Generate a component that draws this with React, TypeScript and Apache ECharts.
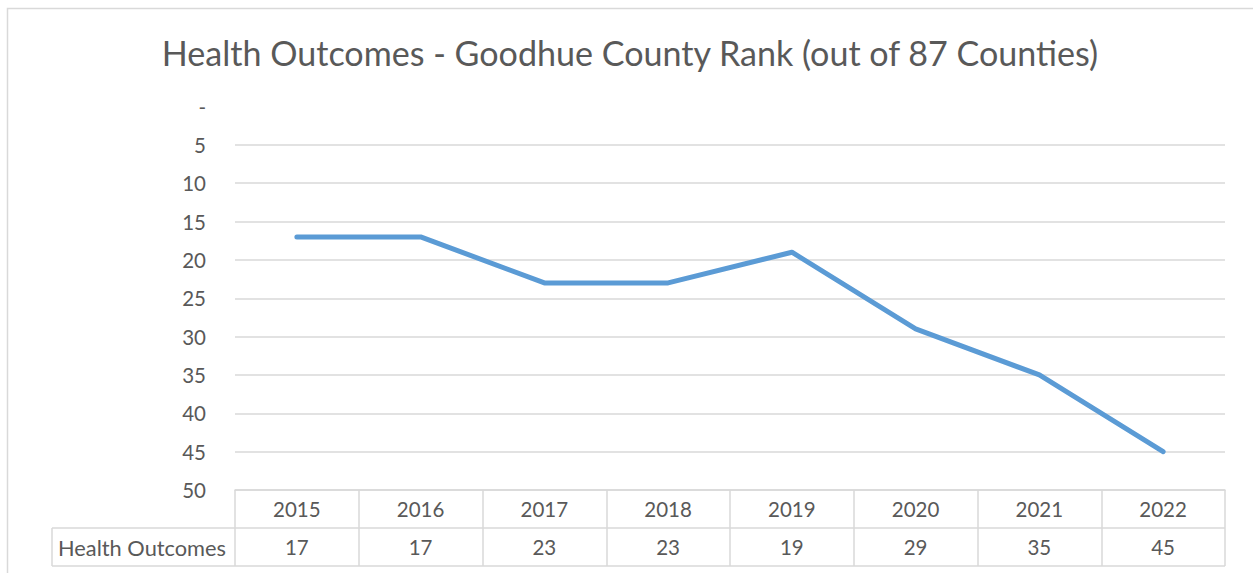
import React, { useEffect, useRef } from "react";
import * as echarts from "echarts";

const titleText = "Health Outcomes - Goodhue County Rank (out of 87 Counties)";
const seriesName = "Health Outcomes";
const years = ["2015", "2016", "2017", "2018", "2019", "2020", "2021", "2022"];
const ranks = [17, 17, 23, 23, 19, 29, 35, 45];

const FONT = "Lato";
const TXT = "#595959";
const GRID = "#d9d9d9";

export default function App() {
  const ref = useRef<HTMLDivElement>(null);
  useEffect(() => {
    if (!ref.current) return;
    const chart = echarts.init(ref.current, null, { renderer: "svg" });
    const gl = 235, gr = 1225, gt = 106.5, gb = 490;
    chart.setOption({
      animation: false,
      backgroundColor: "#fff",
      textStyle: { fontFamily: FONT },
      title: {
        text: titleText,
        left: 625,
        textAlign: "center",
        top: 30,
        textStyle: { fontFamily: FONT, fontSize: 34.1, fontWeight: "normal", color: TXT },
      },
      grid: { left: gl, right: 1253 - gr, top: gt, bottom: 573 - gb, containLabel: false },
      xAxis: {
        type: "category",
        data: years,
        boundaryGap: true,
        axisLine: { show: true, onZero: false, lineStyle: { color: GRID, width: 1.5 } },
        axisTick: { show: true, inside: false, length: 76, interval: 0, lineStyle: { color: GRID, width: 1.5 } },
        axisLabel: {
          interval: 0,
          margin: 0,
          color: TXT,
          fontFamily: FONT,
          fontSize: 20.5,
          lineHeight: 38,
          formatter: (v: string, i: number) => `${v}\n${ranks[i]}`,
        },
      },
      yAxis: {
        type: "value",
        inverse: true,
        min: 0,
        max: 50,
        interval: 5,
        axisLine: { show: false },
        axisTick: { show: false },
        axisLabel: {
          margin: 29,
          color: TXT,
          fontFamily: FONT,
          fontSize: 20.5,
          formatter: (v: number) => (v === 0 ? "-" : String(v)),
        },
        splitLine: { show: true, showMinLine: false, lineStyle: { color: GRID, width: 1.5 } },
      },
      series: [
        {
          name: seriesName,
          type: "line",
          data: ranks,
          symbol: "none",
          lineStyle: { color: "#5B9BD5", width: 5, cap: "round", join: "round" },
        },
      ],
      graphic: [
        { type: "rect", shape: { x: 7.5, y: 8.5, width: 1300, height: 700 }, style: { fill: "none", stroke: GRID, lineWidth: 1.5 }, silent: true },
        { type: "line", shape: { x1: 52, y1: 528, x2: gr, y2: 528 }, style: { stroke: GRID, lineWidth: 1.5 } },
        { type: "line", shape: { x1: 52, y1: 566, x2: gr, y2: 566 }, style: { stroke: GRID, lineWidth: 1.5 } },
        { type: "line", shape: { x1: 52, y1: 528, x2: 52, y2: 566 }, style: { stroke: GRID, lineWidth: 1.5 } },
        {
          type: "text",
          x: 58,
          y: 547,
          style: { text: seriesName, fill: TXT, fontFamily: FONT, fontSize: 21.8, verticalAlign: "middle", textAlign: "left" },
        },
      ],
    });
    return () => chart.dispose();
  }, []);
  return <div ref={ref} style={{ position: "fixed", left: 0, top: 0, width: 1253, height: 573 }} />;
}
